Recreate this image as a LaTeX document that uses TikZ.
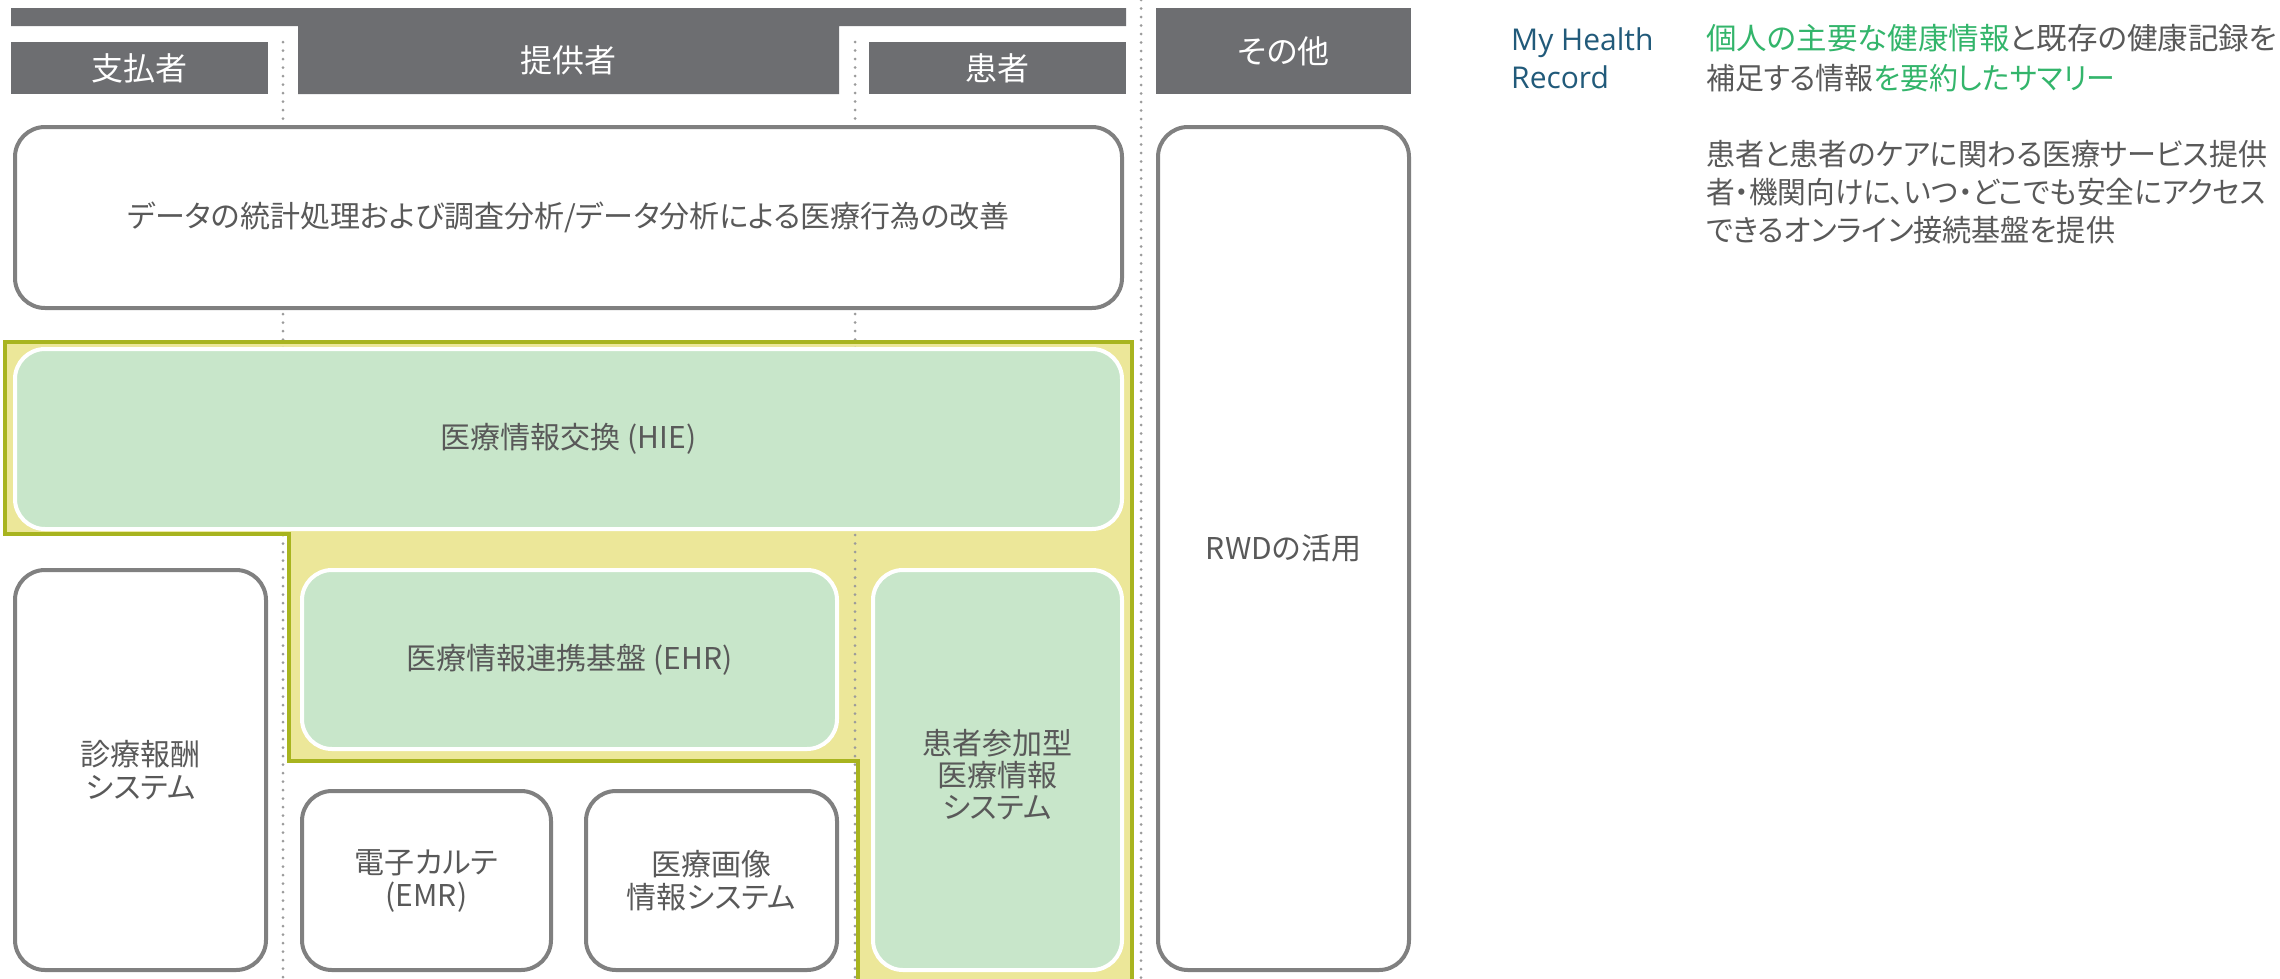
\documentclass[tikz,border=0pt]{standalone}
\usepackage{fontspec}
\setmainfont{Noto Sans CJK JP}[RawFeature={+palt}]
\newfontfamily\latinfont{Open Sans}
\definecolor{hdrgray}{HTML}{6D6E71}
\definecolor{boxgray}{HTML}{808080}
\definecolor{txtgray}{HTML}{595959}
\definecolor{hlfill}{HTML}{ECE799}
\definecolor{hlline}{HTML}{A8B41F}
\definecolor{hiegreen}{HTML}{C8E6CA}
\definecolor{dotgray}{HTML}{9B9B9B}
\definecolor{teal}{HTML}{215A7A}
\definecolor{mhrgreen}{HTML}{33B56B}
\newcommand{\fitw}[2]{\resizebox{#1}{\height}{#2}}
\tikzset{
  hdr/.style={fill=hdrgray, draw=none, text=white, inner sep=0pt, font=\fontsize{32}{36}\selectfont},
  wbox/.style={draw=boxgray, line width=4pt, fill=white, rounded corners=30pt, inner sep=0pt,
    align=center, text=txtgray, font=\fontsize{30}{33}\selectfont},
  gbox/.style={draw=white, line width=4pt, fill=hiegreen, rounded corners=30pt, inner sep=0pt,
    align=center, text=txtgray, font=\fontsize{30}{33}\selectfont},
  lbl/.style={inner sep=0pt, align=center, text=txtgray, font=\fontsize{30}{32}\selectfont},
  rtext/.style={inner sep=0pt, anchor=base west, text=txtgray, font=\fontsize{30}{38}\selectfont},
  dotline/.style={draw=dotgray, line width=3pt, line cap=round, dash pattern=on 0pt off 8.5pt}
}
\begin{document}
\begin{tikzpicture}[x=1pt,y=-1pt]
\useasboundingbox[fill=white] (0,0) rectangle (2280,978);

% highlighted (yellow) region
\fill[hlfill] (5,342) -- (1132,342) -- (1132,990) -- (858,990) -- (858,761) -- (289,761) -- (289,534) -- (5,534) -- cycle;

% dotted column guides
\draw[dotline] (283,42) -- (283,978);
\draw[dotline] (855,42) -- (855,978);
\draw[dotline] (1141,0) -- (1141,978);

\draw[draw=hlline, line width=3.5pt, line join=miter] (858,990) -- (858,761) -- (289,761) -- (289,534) -- (5,534) -- (5,342) -- (1132,342) -- (1132,990);

% header
\fill[hdrgray] (11,8) -- (1126,8) -- (1126,26) -- (839,26) -- (839,94) -- (298,94) -- (298,26) -- (11,26) -- cycle;
\node[hdr] (prov) at (568,60) {提供者};
\node[hdr, minimum width=257pt, minimum height=52pt] (payer) at (139.5,68) {支払者};
\node[hdr, minimum width=257pt, minimum height=52pt] (patient) at (997.5,68) {患者};
\node[hdr, minimum width=255pt, minimum height=86pt] (other) at (1283.5,51) {その他};

% boxes
\node[wbox, minimum width=1107pt, minimum height=181pt] (data) at (568.5,217.5)
  {データの統計処理および調査分析/データ分析による医療行為の改善};
\node[gbox, minimum width=1107pt, minimum height=180pt] (hie) at (568.5,439)
  {医療情報交換 (HIE)};
\node[wbox, minimum width=251pt, minimum height=400pt] (claims) at (140.5,770)
  {診療報酬\\システム};
\node[gbox, minimum width=535pt, minimum height=179pt] (ehr) at (569.5,659.5)
  {医療情報連携基盤 (EHR)};
\node[gbox, minimum width=249pt, minimum height=400pt] (phr) at (997.5,770) {};
\node[lbl] (phrtext) at (997,775) {患者参加型\\医療情報\\システム};
\node[wbox, minimum width=249pt, minimum height=179pt] (emr) at (426.5,880.5)
  {電子カルテ\\(EMR)};
\node[wbox, minimum width=251pt, minimum height=179pt] (pacs) at (711.5,880.5)
  {医療画像\\情報システム};
\node[wbox, minimum width=251pt, minimum height=843pt] (rwd) at (1283.5,548.5)
  {RWDの活用};

% My Health Record description
\node[rtext, text=teal, font=\latinfont\fontsize{30}{38}\selectfont] (mhr1) at (1511,50) {My Health};
\node[rtext, text=teal, font=\latinfont\fontsize{30}{38}\selectfont] (mhr2) at (1511,88.5) {Record};
\node[rtext] (d1) at (1706,49.5) {\fitw{571pt}{\textcolor{mhrgreen}{個人の主要な健康情報}と既存の健康記録を}};
\node[rtext] (d2) at (1706,89) {\fitw{409pt}{補足する情報\textcolor{mhrgreen}{を要約したサマリー}}};
\node[rtext] (d3) at (1706,165) {\fitw{561pt}{患者と患者のケアに関わる医療サービス提供}};
\node[rtext] (d4) at (1706,203) {\fitw{560pt}{者・機関向けに、いつ・どこでも安全にアクセス}};
\node[rtext] (d5) at (1706,241) {\fitw{409pt}{できるオンライン接続基盤を提供}};
\end{tikzpicture}
\end{document}
